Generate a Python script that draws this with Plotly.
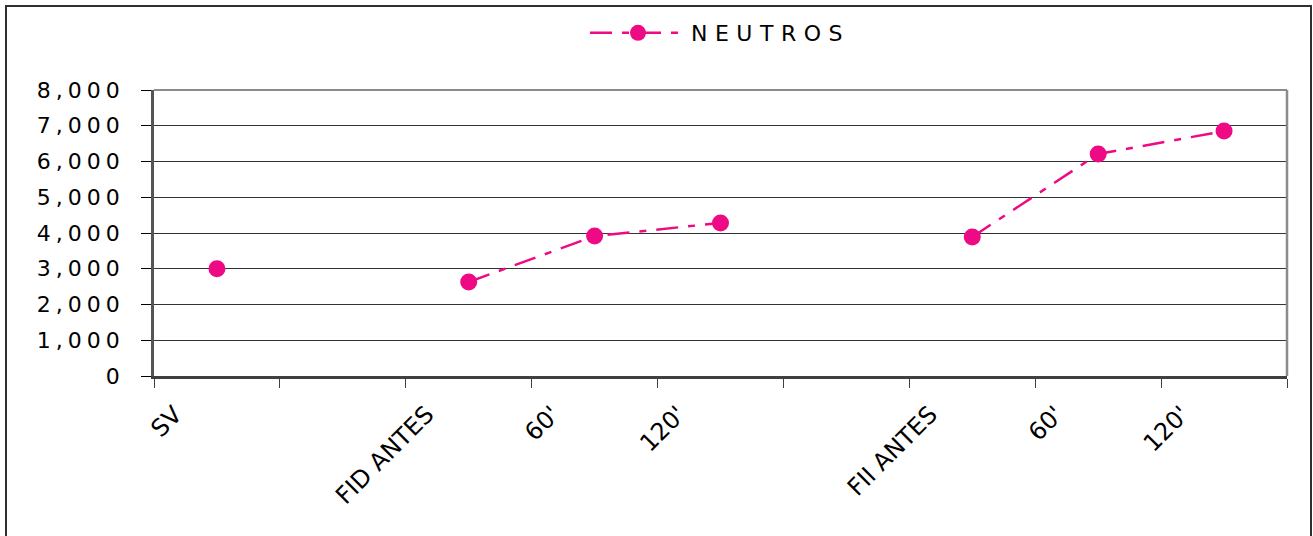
import plotly.graph_objects as go

# ---- data ----
slot_labels = ["SV", "", "FID ANTES", "60'", "120'", "", "FII ANTES", "60'", "120'"]
neutros = [3000, None, 2630, 3915, 4280, None, 3890, 6210, 6850]
series_name = "NEUTROS"

slots = list(range(1, len(slot_labels) + 1))
boundaries = [s - 0.5 for s in slots] + [slots[-1] + 0.5]

PINK = "#EE0A84"
FONT = "DejaVu Sans"

fig = go.Figure()
fig.add_trace(go.Scatter(
    x=slots, y=neutros, name=series_name, mode="lines+markers",
    connectgaps=False,
    line=dict(color=PINK, width=2.5, dash="22px,10px,7px,10px"),
    marker=dict(color=PINK, size=17, symbol="circle"),
))

W, H = 1313, 536
L, R, T, B = 154, 26, 90, 160
pw, ph = W - L - R, H - T - B

def px2x(p):
    return (p - L) / pw

def py2y(p):
    return (H - B - p) / ph

fig.update_layout(
    width=W, height=H,
    margin=dict(l=L, r=R, t=T, b=B, pad=0),
    paper_bgcolor="white", plot_bgcolor="white",
    font=dict(family=FONT, size=22, color="black"),
    showlegend=True,
    legend=dict(orientation="h", x=px2x(585), xanchor="left",
                y=py2y(12), yanchor="top", font=dict(size=22),
                bgcolor="rgba(0,0,0,0)", itemwidth=96),
    xaxis=dict(
        range=[boundaries[0], boundaries[-1]],
        tickmode="array", tickvals=slots, ticktext=slot_labels,
        ticks="", tickangle=-45, ticklabelshift=-42, ticklabelstandoff=12,
        showgrid=False, zeroline=False,
        showline=True, linecolor="#404040", linewidth=2.5,
        minor=dict(tickmode="array", tickvals=boundaries, ticks="outside",
                   ticklen=9, tickwidth=1, tickcolor="#404040", showgrid=False),
        tickfont=dict(size=24),
    ),
    yaxis=dict(
        range=[0, 8000], dtick=1000, tickformat=",d",
        ticks="outside", ticklen=10, tickwidth=1, tickcolor="black",
        ticklabelstandoff=12,
        showgrid=True, gridcolor="#333333", gridwidth=1,
        zeroline=False,
        showline=True, linecolor="#555555", linewidth=2.5,
        tickfont=dict(size=22),
    ),
    shapes=[
        # plot-area top and right border
        dict(type="line", xref="paper", yref="paper", x0=0, x1=1, y0=1, y1=1,
             line=dict(color="#8c8c8c", width=2)),
        dict(type="line", xref="paper", yref="paper", x0=1, x1=1, y0=0, y1=1,
             line=dict(color="#8c8c8c", width=2.5)),
        # outer chart border
        dict(type="rect", xref="paper", yref="paper",
             x0=px2x(6), x1=px2x(1311), y0=py2y(550), y1=py2y(6),
             line=dict(color="#303030", width=2), fillcolor="rgba(0,0,0,0)"),
    ],
)

post = """
var gd = document.getElementById('{plot_id}');
function ls(){
  gd.querySelectorAll('.ytick text').forEach(function(t){
    t.setAttribute('letter-spacing','5px');
  });
  gd.querySelectorAll('.legendtext').forEach(function(t){
    t.setAttribute('letter-spacing','7.5px');
  });
  gd.querySelectorAll('.legend, .legend .scrollbox, .legend g').forEach(function(e){
    e.removeAttribute('clip-path');
  });
}
ls();
if (gd.on) { gd.on('plotly_afterplot', ls); }
"""

fig.write_html("out.html", post_script=post)
